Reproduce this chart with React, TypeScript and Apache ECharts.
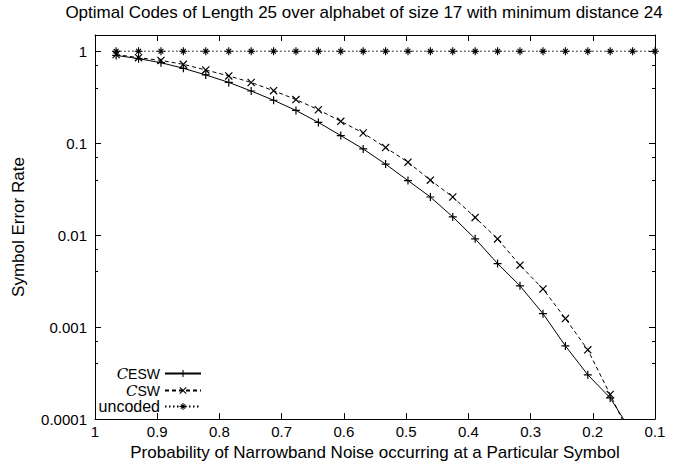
import React, { useEffect, useRef } from 'react';
import * as echarts from 'echarts';

// Probability of narrowband noise occurring at a particular symbol
const xValues = [0.966, 0.930, 0.894, 0.858, 0.822, 0.785, 0.749, 0.713, 0.677, 0.641, 0.605, 0.569, 0.533, 0.497, 0.461, 0.425, 0.389, 0.353, 0.317, 0.280, 0.244, 0.208, 0.172, 0.136, 0.100];

// Symbol error rates
const eswValues = [0.90, 0.83, 0.75, 0.652, 0.552, 0.458, 0.369, 0.293, 0.227, 0.168, 0.121, 0.0865, 0.0592, 0.0392, 0.026, 0.0158, 0.00912, 0.00491, 0.00281, 0.0014, 0.000625, 0.000303, 0.00017, 0.00007, null];
const swValues = [0.92, 0.85, 0.794, 0.72, 0.625, 0.539, 0.457, 0.372, 0.298, 0.231, 0.173, 0.129, 0.0895, 0.0622, 0.0396, 0.026, 0.01557, 0.0091, 0.00471, 0.0026, 0.00124, 0.000566, 0.000185, 0.000058, null];
const uncodedValues = [1, 1, 1, 1, 1, 1, 1, 1, 1, 1, 1, 1, 1, 1, 1, 1, 1, 1, 1, 1, 1, 1, 1, 1, 1];

const seriesNames = ['ESW', 'SW', 'uncoded'];
const titleText = 'Optimal Codes of Length 25 over alphabet of size 17 with minimum distance 24';
const xAxisName = 'Probability of Narrowband Noise occurring at a Particular Symbol';
const yAxisName = 'Symbol Error Rate';

const PLUS = 'path://M0,4.25H10V5.75H0Z M4.25,0H5.75V10H4.25Z';
const CROSS = 'path://M0,1.06L1.06,0L10,8.94L8.94,10Z M8.94,0L10,1.06L1.06,10L0,8.94Z';
const STAR = 'path://M0,4.3H10V5.7H0Z M4.3,0H5.7V10H4.3Z M1.5,2.5L2.5,1.5L8.5,7.5L7.5,8.5Z M7.5,1.5L8.5,2.5L2.5,8.5L1.5,7.5Z';

const FONT = 'Liberation Sans';
const W = 673;
const H = 466;

function isPow10(v: number) {
  const l = Math.log10(v);
  return Math.abs(l - Math.round(l)) < 1e-6;
}

export default function App() {
  const ref = useRef<HTMLDivElement>(null);
  useEffect(() => {
    const chart = echarts.init(ref.current!, null, { renderer: 'svg' });
    const pairs = (vals: (number | null)[]) => xValues.map((x, i) => [x, vals[i]]);
    const xBase = {
      type: 'value',
      inverse: true,
      min: 0.1,
      max: 1,
      interval: 0.1,
      splitLine: { show: false },
      axisLine: { show: true, onZero: false, lineStyle: { color: '#000', width: 1 } },
      axisTick: { show: true, inside: true, length: 6, lineStyle: { color: '#000' } },
    };
    const yBase = {
      type: 'log',
      logBase: 10,
      min: 0.0001,
      max: 1.5,
      splitLine: { show: false },
      axisLine: { show: true, onZero: false, lineStyle: { color: '#000', width: 1 } },
      axisTick: { show: true, inside: true, length: 6, lineStyle: { color: '#000' } },
      minorTick: { show: true, splitNumber: 3, length: 3, lineStyle: { color: '#000' } },
    };
    const legendBase = {
      orient: 'horizontal',
      align: 'right',
      itemWidth: 36,
      itemHeight: 9,
      padding: 0,
      selectedMode: false,
      textStyle: {
        fontFamily: FONT,
        fontSize: 16,
        lineHeight: 17,
        color: '#000',
        rich: {
          c: { fontFamily: 'DejaVu Serif', fontStyle: 'italic', fontSize: 15, color: '#000', verticalAlign: 'top', lineHeight: 15 },
          s: { fontFamily: FONT, fontSize: 14, color: '#000', verticalAlign: 'bottom', lineHeight: 14, padding: [4, 0, 0, 0] },
        },
      },
      formatter: (name: string) => (name === 'uncoded' ? 'uncoded' : '{c|C}{s|' + name + '}'),
    };
    const option = {
      animation: false,
      backgroundColor: '#fff',
      grid: { left: 95, right: W - 655, top: 35, bottom: H - 424, containLabel: false },
      graphic: [
        {
          type: 'text',
          x: 364,
          y: 12,
          style: { text: titleText, font: `17px "${FONT}"`, fill: '#000', textAlign: 'center', textVerticalAlign: 'middle' },
        },
      ],
      legend: [
        { ...legendBase, data: [seriesNames[0]], right: W - 202, top: 363 },
        { ...legendBase, data: [seriesNames[1]], right: W - 202, top: 380 },
        { ...legendBase, data: [seriesNames[2]], right: W - 202, top: 398 },
      ],
      xAxis: [
        {
          ...xBase,
          position: 'bottom',
          name: xAxisName,
          nameLocation: 'middle',
          nameGap: 22,
          nameTextStyle: { fontFamily: FONT, fontSize: 17, color: '#000' },
          axisLabel: { fontFamily: FONT, fontSize: 15, color: '#000', margin: 5 },
        },
        { ...xBase, position: 'top', axisLabel: { show: false } },
      ],
      yAxis: [
        {
          ...yBase,
          position: 'left',
          name: yAxisName,
          nameLocation: 'middle',
          nameGap: 68,
          nameRotate: 90,
          nameTextStyle: { fontFamily: FONT, fontSize: 17, color: '#000' },
          axisLabel: {
            fontFamily: FONT,
            fontSize: 15,
            color: '#000',
            margin: 8,
            showMaxLabel: false,
            formatter: (v: number) => (isPow10(v) ? String(Number(v.toPrecision(1))) : ''),
          },
        },
        { ...yBase, position: 'right', axisLabel: { show: false } },
      ],
      series: [
        {
          name: seriesNames[0],
          type: 'line',
          data: pairs(eswValues),
          symbol: PLUS,
          symbolSize: 8,
          showAllSymbol: true,
          lineStyle: { color: '#000', width: 1, type: 'solid' },
          itemStyle: { color: '#000', borderWidth: 0 },
          clip: true,
          z: 3,
        },
        {
          name: seriesNames[1],
          type: 'line',
          data: pairs(swValues),
          symbol: CROSS,
          symbolSize: 8,
          showAllSymbol: true,
          lineStyle: { color: '#000', width: 1, type: [4, 3] },
          itemStyle: { color: '#000', borderWidth: 0 },
          clip: true,
          z: 3,
        },
        {
          name: seriesNames[2],
          type: 'line',
          data: pairs(uncodedValues),
          symbol: STAR,
          symbolSize: 8,
          showAllSymbol: true,
          lineStyle: { color: '#000', width: 1, type: [1.5, 2.5] },
          itemStyle: { color: '#000', borderWidth: 0 },
          clip: true,
          z: 3,
        },
      ],
    };
    chart.setOption(option as any);
    return () => chart.dispose();
  }, []);
  return (
    <div
      ref={ref}
      style={{ position: 'fixed', left: 0, top: 0, width: W, height: H, background: '#fff' }}
    />
  );
}
